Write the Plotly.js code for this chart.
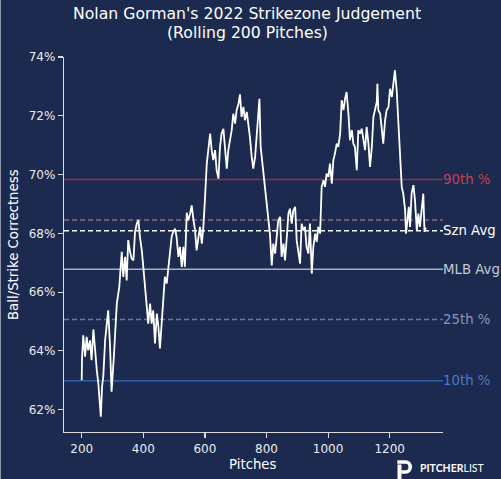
<!DOCTYPE html>
<html>
<head>
<meta charset="utf-8">
<script src="https://cdn.plot.ly/plotly-3.0.1.min.js"></script>
<style>
html,body{margin:0;padding:0;background:#1b2a4e;}
#chart{width:501px;height:479px;}
</style>
</head>
<body>
<div id="chart"></div>
<script>
// ---- data ----
const pitches = [200,201,205,211,216,221,227,232,238,243,249,254,259,262,266,270,276,281,286,292,297,305,314,322,330,335,341,346,351,357,362,368,373,379,384,389,395,400,406,411,416,422,427,432,438,444,449,454,460,465,470,476,481,487,492,497,503,508,514,519,525,530,535,541,546,552,557,563,568,573,579,584,590,595,600,606,611,617,622,627,633,638,644,649,654,660,665,671,676,682,687,692,698,703,709,714,719,725,730,736,741,746,752,757,763,768,774,777,781,788,792,798,806,811,817,822,828,833,838,844,849,855,860,866,871,876,882,887,893,898,903,909,914,920,925,930,936,941,947,952,958,963,968,974,979,985,990,995,1001,1006,1012,1017,1022,1028,1033,1039,1044,1050,1055,1060,1066,1071,1077,1082,1087,1093,1098,1104,1109,1115,1120,1125,1131,1136,1142,1147,1152,1158,1160,1163,1169,1174,1179,1185,1190,1196,1201,1207,1212,1217,1223,1228,1234,1239,1244,1250,1253,1257,1262,1266,1271,1277,1282,1288,1293,1298,1304,1309,1313,1317];
const correctness = [63.00,63.74,64.53,63.80,64.48,64.02,64.36,63.68,64.73,64.02,63.34,62.89,62.21,61.76,62.78,63.12,64.36,64.82,65.38,64.14,62.61,63.91,65.61,66.18,67.37,66.52,67.20,66.40,67.77,67.37,67.14,67.08,68.05,68.33,68.45,67.88,67.43,66.86,66.18,65.38,64.93,65.61,64.93,65.38,64.25,65.27,64.82,64.08,65.16,65.84,66.52,66.29,66.80,67.43,67.88,68.05,68.16,67.88,67.20,67.54,66.86,67.54,66.86,68.70,68.44,68.67,68.95,68.44,68.10,67.42,67.88,68.22,67.65,68.22,69.13,70.37,70.83,71.39,70.83,70.49,70.83,70.15,69.86,70.94,71.39,71.56,70.94,70.20,70.83,71.17,71.51,72.07,71.73,72.19,72.41,72.73,71.96,72.30,71.85,72.13,71.73,71.28,70.60,70.20,70.60,71.39,72.19,72.58,70.94,70.20,69.80,69.24,68.44,67.99,66.91,67.65,67.31,67.99,68.44,68.56,67.20,67.65,67.08,67.88,68.67,68.84,68.33,68.78,68.90,67.76,67.31,66.97,68.33,68.10,68.22,67.54,67.31,68.33,66.63,67.54,67.99,67.71,68.22,67.99,69.58,69.81,69.58,70.03,69.92,70.37,69.69,70.49,70.71,71.05,70.94,71.39,72.53,72.19,72.58,72.81,72.07,71.17,71.51,71.05,70.94,70.15,71.51,71.39,71.56,71.17,70.83,71.62,71.05,70.26,70.94,71.96,72.19,72.47,73.09,72.19,72.07,71.62,71.05,71.85,72.19,72.30,72.92,72.64,73.21,73.55,72.81,71.62,70.26,69.58,69.35,68.79,67.99,68.45,68.90,68.22,69.35,69.64,69.13,68.10,68.67,68.22,68.90,69.35,68.05,68.20];

const refLabels = ['90th %', '', 'Szn Avg', 'MLB Avg', '25th %', '10th %'];
const refValues = [69.83, 68.45, 68.09, 66.78, 65.07, 62.98];

const yTicks = [62, 64, 66, 68, 70, 72, 74];
const xTicks = [200, 400, 600, 800, 1000, 1200];

// ---- styles ----
const refLineColors = ['rgba(160,52,72,0.85)', 'rgba(170,120,135,0.8)', '#ffffff', 'rgba(185,190,205,0.9)', 'rgba(120,135,170,0.85)', 'rgba(48,100,175,0.95)'];
const refTextColors = ['#c8404e', '#b0808c', '#ffffff', '#c6c9d3', '#8797bd', '#4a7cc6'];
const refDash = ['solid', '5px,3px', '5px,3px', 'solid', '5px,3px', 'solid'];

const BG = '#1b2a4e';
const FONT = 'DejaVu Sans, Verdana, sans-serif';
const W = 501, H = 479;
const M = {l: 64, r: 58, t: 57, b: 47};
const PW = W - M.l - M.r, PH = H - M.t - M.b;
const px = v => (v - M.l) / PW;
const py = v => 1 - (v - M.t) / PH;
function path(pts) {
  return pts.map((p, i) => (i === 0 ? 'M ' : (p[2] || 'L ')) + px(p[0]).toFixed(5) + ' ' + py(p[1]).toFixed(5)).join(' ');
}

const shapes = refValues.map((v, i) => ({
  type: 'line', xref: 'paper', yref: 'y', x0: 0, x1: 1, y0: v, y1: v,
  layer: 'below',
  line: {color: refLineColors[i], width: 1.5, dash: refDash[i]}
}));

// Pitcher List logo (P mark)
shapes.push({
  type: 'path', xref: 'paper', yref: 'paper', layer: 'above',
  path: 'M ' + px(399.5) + ' ' + py(464.5) + ' L ' + px(399.5) + ' ' + py(479),
  line: {color: '#ffffff', width: 4}
});
shapes.push({
  type: 'path', xref: 'paper', yref: 'paper', layer: 'above',
  path: 'M ' + px(397.3) + ' ' + py(462) + ' L ' + px(405.5) + ' ' + py(462) +
        ' C ' + px(411.8) + ' ' + py(462) + ' ' + px(411.8) + ' ' + py(472) + ' ' + px(405.5) + ' ' + py(472) +
        ' L ' + px(401.5) + ' ' + py(472),
  line: {color: '#ffffff', width: 3.6}
});
// left edge border
shapes.push({type: 'line', xref: 'paper', yref: 'paper', x0: px(0.5), x1: px(0.5), y0: py(0), y1: py(479),
  line: {color: '#8f96a6', width: 1}});

const annotations = [];
refValues.forEach((v, i) => {
  if (!refLabels[i]) return;
  annotations.push({
    xref: 'paper', yref: 'y', x: 1, y: v, xanchor: 'left', yanchor: 'middle',
    text: refLabels[i], showarrow: false, borderpad: 0, xshift: -1,
    font: {family: FONT, size: 13.3, color: refTextColors[i]}
  });
});
annotations.push({
  xref: 'paper', yref: 'paper', x: px(247), y: py(14), xanchor: 'center', yanchor: 'middle',
  text: "Nolan Gorman's 2022 Strikezone Judgement", showarrow: false,
  font: {family: FONT, size: 15.7, color: '#ffffff'}
});
annotations.push({
  xref: 'paper', yref: 'paper', x: px(247), y: py(32), xanchor: 'center', yanchor: 'middle',
  text: "(Rolling 200 Pitches)", showarrow: false,
  font: {family: FONT, size: 15.7, color: '#ffffff'}
});
annotations.push({
  xref: 'paper', yref: 'paper', x: px(13), y: py(245), xanchor: 'center', yanchor: 'middle',
  text: 'Ball/Strike Correctness', textangle: -90, showarrow: false,
  font: {family: FONT, size: 13.3, color: '#ffffff'}
});
annotations.push({
  xref: 'paper', yref: 'paper', x: px(253), y: py(464), xanchor: 'center', yanchor: 'middle',
  text: 'Pitches', showarrow: false,
  font: {family: FONT, size: 13.3, color: '#ffffff'}
});
annotations.push({
  xref: 'paper', yref: 'paper', x: px(419), y: py(467.5), xanchor: 'left', yanchor: 'middle',
  text: '<b>PITCHER</b>LIST', showarrow: false, borderpad: 0,
  font: {family: 'Lato, Open Sans, sans-serif', size: 10.5, color: '#ffffff'}
});

const trace = {
  x: pitches, y: correctness, type: 'scatter', mode: 'lines',
  line: {color: '#ffffff', width: 1.8}, hoverinfo: 'skip'
};

const layout = {
  width: W, height: H,
  paper_bgcolor: BG, plot_bgcolor: BG,
  margin: M,
  showlegend: false,
  font: {family: FONT, color: '#ffffff', size: 12},
  xaxis: {
    range: [142.5, 1373], tickvals: xTicks, ticktext: xTicks.map(String),
    showgrid: false, zeroline: false, showline: true, linecolor: '#dcdcdc', linewidth: 1.3,
    ticks: 'outside', ticklen: 5, tickwidth: 1.2, tickcolor: '#dcdcdc',
    tickfont: {family: FONT, size: 12, color: '#ececec'}
  },
  yaxis: {
    range: [61.24, 74.0], tickvals: yTicks, ticktext: yTicks.map(t => t + '%'),
    showgrid: false, zeroline: false, showline: true, linecolor: '#dcdcdc', linewidth: 1.3,
    ticks: 'outside', ticklen: 5, tickwidth: 1.2, tickcolor: '#dcdcdc',
    tickfont: {family: FONT, size: 12, color: '#ececec'}
  },
  shapes: shapes,
  annotations: annotations
};

Plotly.newPlot('chart', [trace], layout, {displayModeBar: false, staticPlot: true});
</script>
</body>
</html>
